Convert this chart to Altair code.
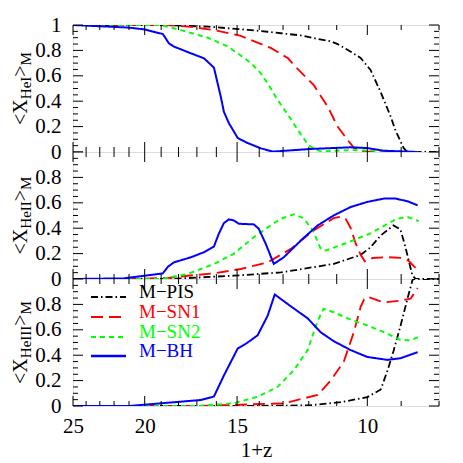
import altair as alt
import pandas as pd

# ---------------- data ----------------
SERIES = ["M\u2212PIS", "M\u2212SN1", "M\u2212SN2", "M\u2212BH"]
COLORS = ["#000000", "#ff0000", "#00ff00", "#0000ff"]

# panel 1 : <x_HeI>_M
HEI_PIS_X = [25, 19.0, 16.43, 14.5, 13.64, 13.09, 12.3, 11.67, 11.21, 10.97, 10.53, 10.21, 9.9, 9.59, 9.3, 9.16, 8.93, 8.82, 8.0]
HEI_PIS_Y = [1.0, 1.0, 0.987, 0.962, 0.947, 0.935, 0.918, 0.89, 0.872, 0.85, 0.79, 0.74, 0.646, 0.47, 0.28, 0.17, 0.03, 0.0, 0.0]
HEI_SN1_X = [25, 18.6, 17.3, 16.12, 14.83, 13.51, 12.8, 12.57, 11.82, 11.31, 10.97, 10.63, 10.43, 10.1, 8.55]
HEI_SN1_Y = [1.0, 1.0, 0.985, 0.96, 0.915, 0.82, 0.738, 0.685, 0.528, 0.357, 0.2, 0.094, 0.034, 0.003, 0.0]
HEI_SN2_X = [25, 19.0, 17.87, 16.43, 15.44, 14.83, 14.37, 13.93, 13.64, 13.22, 12.69, 12.42, 12.0, 11.56, 10.53, 10.0, 8.55]
HEI_SN2_Y = [1, 1, 0.96, 0.90, 0.83, 0.76, 0.70, 0.62, 0.54, 0.41, 0.26, 0.175, 0.05, 0.005, 0.015, 0.012, 0]
HEI_BH_X = [25, 21.07, 20.05, 18.9, 18.55, 18.26, 17.32, 16.63, 16.12, 15.78, 15.63, 15.39, 14.97, 14.51, 13.93, 13.42, 11.93, 10.53, 10.0, 9.5, 8.55]
HEI_BH_Y = [1, 0.98, 0.966, 0.929, 0.856, 0.83, 0.777, 0.738, 0.664, 0.435, 0.317, 0.228, 0.11, 0.07, 0.029, 0.003, 0.024, 0.037, 0.031, 0.01, 0]

# panel 2 : <x_HeII>_M
HEII_PIS_X = [25, 18.5, 15.16, 13.09, 11.10, 10.21, 9.9, 9.59, 9.22, 9.02, 8.88, 8.69, 8.6, 8.0]
HEII_PIS_Y = [0, 0, 0.026, 0.052, 0.119, 0.19, 0.25, 0.343, 0.422, 0.39, 0.25, 0.026, 0, 0]
HEII_SN1_X = [25, 20, 18.5, 17.49, 16.12, 14.83, 13.64, 12.69, 11.82, 11.10, 10.86, 10.7, 10.53, 10.37, 10.21, 10.08, 9.84, 9.39, 9.02, 8.8, 8.55]
HEII_SN1_Y = [0, 0.002, 0.01, 0.026, 0.044, 0.079, 0.131, 0.237, 0.382, 0.48, 0.49, 0.475, 0.40, 0.28, 0.19, 0.14, 0.165, 0.172, 0.166, 0.145, 0.07]
HEII_SN2_X = [25, 19.0, 17.49, 16.12, 15.16, 14.24, 13.51, 13.09, 12.57, 12.2, 11.85, 11.56, 11.38, 10.6, 9.9, 9.12, 8.82, 8.52]
HEII_SN2_Y = [0, 0, 0.04, 0.119, 0.198, 0.329, 0.422, 0.475, 0.509, 0.48, 0.382, 0.237, 0.224, 0.29, 0.36, 0.475, 0.488, 0.456]
HEII_BH_X = [25, 21.33, 18.9, 18.6, 18.26, 17.32, 16.63, 16.12, 15.88, 15.63, 15.39, 15.16, 14.92, 14.24, 14.02, 13.72, 13.38, 12.97, 12.3, 11.67, 11.10, 10.53, 10.0, 9.5, 9.16, 8.82, 8.55]
HEII_BH_Y = [0, 0.005, 0.044, 0.097, 0.131, 0.171, 0.211, 0.256, 0.356, 0.44, 0.469, 0.462, 0.435, 0.43, 0.396, 0.277, 0.119, 0.171, 0.303, 0.422, 0.501, 0.567, 0.607, 0.633, 0.633, 0.612, 0.58]

# panel 3 : <x_HeIII>_M
HEIII_PIS_X = [25, 15, 12.0, 10.86, 10.0, 9.59, 9.39, 9.22, 9.02, 8.82, 8.69, 8.66, 8.0]
HEIII_PIS_Y = [0, 0, 0.005, 0.03, 0.07, 0.13, 0.28, 0.43, 0.63, 0.85, 0.99, 1.0, 1.0]
HEIII_SN1_X = [25, 17, 12.97, 11.67, 11.21, 10.76, 10.43, 10.21, 10.1, 10.0, 9.5, 9.02, 8.74, 8.55]
HEIII_SN1_Y = [0, 0, 0.021, 0.087, 0.2, 0.35, 0.58, 0.78, 0.84, 0.86, 0.816, 0.83, 0.845, 0.93]
HEIII_SN2_X = [25, 17, 15.16, 14.07, 13.22, 12.57, 12.04, 11.85, 11.67, 11.46, 11.10, 10.53, 10.0, 9.5, 9.02, 8.74, 8.52]
HEIII_SN2_Y = [0, 0, 0.021, 0.073, 0.151, 0.282, 0.44, 0.56, 0.67, 0.765, 0.738, 0.68, 0.634, 0.582, 0.519, 0.518, 0.545]
HEIII_BH_X = [25, 21, 20.24, 18.6, 16.79, 16.12, 15.63, 14.97, 14.6, 14.37, 14.07, 13.64, 13.34, 12.69, 12.04, 11.56, 11.10, 10.53, 10.0, 9.39, 9.02, 8.55]
HEIII_BH_Y = [0, 0, 0.008, 0.026, 0.047, 0.075, 0.24, 0.453, 0.49, 0.518, 0.557, 0.71, 0.878, 0.785, 0.69, 0.58, 0.51, 0.44, 0.386, 0.363, 0.376, 0.424]

# axis ticks / labels
X_LABELS = [25, 20, 15, 10]
X_MINOR = [8, 9, 11, 12, 13, 14, 16, 17, 18, 19, 21, 22, 23, 24]
Y_LABELS_TOP = [0, 0.2, 0.4, 0.6, 0.8, 1]
Y_LABELS = [0, 0.2, 0.4, 0.6, 0.8]
Y_MAJOR = [0, 0.2, 0.4, 0.6, 0.8, 1]
Y_MINOR = [0.05, 0.1, 0.15, 0.25, 0.3, 0.35, 0.45, 0.5, 0.55, 0.65, 0.7, 0.75, 0.85, 0.9, 0.95]
SUBS = ["HeI", "HeII", "HeIII"]
X_TITLE = "1+z"

# ---------------- build ----------------
W, H = 366, 127
FONT = "Liberation Serif"
DASHES = [[7, 3, 1.5, 3], [12, 6], [5, 4], [1, 0]]
WIDTHS = [1.8, 2.0, 2.0, 2.5]

curves = {
    "HeI": [(HEI_PIS_X, HEI_PIS_Y), (HEI_SN1_X, HEI_SN1_Y), (HEI_SN2_X, HEI_SN2_Y), (HEI_BH_X, HEI_BH_Y)],
    "HeII": [(HEII_PIS_X, HEII_PIS_Y), (HEII_SN1_X, HEII_SN1_Y), (HEII_SN2_X, HEII_SN2_Y), (HEII_BH_X, HEII_BH_Y)],
    "HeIII": [(HEIII_PIS_X, HEIII_PIS_Y), (HEIII_SN1_X, HEIII_SN1_Y), (HEIII_SN2_X, HEIII_SN2_Y), (HEIII_BH_X, HEIII_BH_Y)],
}

xscale = alt.Scale(type="log", domain=[8, 25], reverse=True, nice=False, zero=False)
yscale = alt.Scale(domain=[0, 1], nice=False, zero=False)

x_major_df = pd.DataFrame({"x": X_LABELS})
x_minor_df = pd.DataFrame({"x": X_MINOR})
y_major_df = pd.DataFrame({"y": Y_MAJOR})
y_minor_df = pd.DataFrame({"y": Y_MINOR})


def ticks(xaxis, yaxis):
    layers = []
    for df, L in ((x_major_df, 10), (x_minor_df, 5)):
        for y0, y1 in ((0, L), (H - L, H)):
            layers.append(alt.Chart(df).mark_rule(color="black", strokeWidth=1).encode(
                x=alt.X("x:Q", scale=xscale, axis=xaxis), y=alt.value(y0), y2=alt.value(y1)))
    for df, L in ((y_major_df, 10), (y_minor_df, 5)):
        for x0, x1 in ((0, L), (W - L, W)):
            layers.append(alt.Chart(df).mark_rule(color="black", strokeWidth=1).encode(
                y=alt.Y("y:Q", scale=yscale, axis=yaxis), x=alt.value(x0), x2=alt.value(x1)))
    return layers


def ytitle(sub):
    main = 20
    small = 15
    wid = {"<": 0.564, ">": 0.564, "X": 0.722, "H": 0.722, "e": 0.444, "I": 0.333, "M": 0.889}
    pieces = [("<X", main, 0), (sub, small, 4), (">", main, 0), ("M", small, 4)]
    total = sum(sum(wid[c] for c in t) * fs for t, fs, _ in pieces)
    ypos = H / 2 + total / 2
    base_x = -46
    layers = []
    for t, fs, dx in pieces:
        layers.append(alt.Chart(pd.DataFrame({"t": [t]})).mark_text(
            angle=270, align="left", baseline="alphabetic", font=FONT, fontSize=fs, color="black"
        ).encode(x=alt.value(base_x + dx), y=alt.value(ypos), text="t:N"))
        ypos -= sum(wid[c] for c in t) * fs
    return layers


def legend():
    layers = []
    rows = [18, 38, 58, 77]
    for i, name in enumerate(SERIES):
        layers.append(alt.Chart(pd.DataFrame({"s": [name]})).mark_rule(
            color=COLORS[i], strokeDash=DASHES[i], strokeWidth=WIDTHS[i]
        ).encode(x=alt.value(18), x2=alt.value(53), y=alt.value(rows[i])))
        layers.append(alt.Chart(pd.DataFrame({"s": [name]})).mark_text(
            align="left", baseline="alphabetic", font=FONT, fontSize=19, color=COLORS[i]
        ).encode(x=alt.value(66), y=alt.value(rows[i] + 1), text="s:N"))
    return layers


def panel(idx):
    sub = SUBS[idx]
    rows = []
    for s, (xs, ys) in zip(SERIES, curves[sub]):
        for k, (xv, yv) in enumerate(zip(xs, ys)):
            rows.append({"series": s, "x": xv, "y": yv, "o": k})
    df = pd.DataFrame(rows)
    last = idx == 2
    if last:
        xaxis = alt.Axis(values=X_LABELS, format="d", ticks=False, tickSize=0, domain=False, grid=False,
                         labelFont=FONT, labelFontSize=21, labelPadding=9, labelFlush=False,
                         labelAlign="center", labelColor="black", title=X_TITLE, titleFont=FONT,
                         titleFontSize=21, titleFontWeight="normal", titleColor="black", titlePadding=3)
    else:
        xaxis = None
    yaxis = alt.Axis(values=(Y_LABELS_TOP if idx == 0 else Y_LABELS), format="~g", ticks=False, tickSize=0,
                     domain=False, grid=False, labelFont=FONT, labelFontSize=21, labelPadding=12,
                     labelColor="black", title=None, labelFlush=False)
    lines = alt.Chart(df).mark_line(clip=True).encode(
        x=alt.X("x:Q", scale=xscale, axis=xaxis),
        y=alt.Y("y:Q", scale=yscale, axis=yaxis),
        color=alt.Color("series:N", scale=alt.Scale(domain=SERIES, range=COLORS), legend=None),
        strokeDash=alt.StrokeDash("series:N", scale=alt.Scale(domain=SERIES, range=DASHES), legend=None),
        strokeWidth=alt.StrokeWidth("series:N", scale=alt.Scale(domain=SERIES, range=WIDTHS), legend=None),
        order="o:Q",
    )
    layers = [lines] + ticks(xaxis, yaxis) + ytitle(sub)
    if last:
        layers += legend()
    return alt.layer(*layers).properties(width=W, height=H)


chart = alt.vconcat(panel(0), panel(1), panel(2), spacing=0, bounds="flush").properties(
    padding={"left": 2, "top": 5, "right": 5, "bottom": 5}
).configure_view(stroke="black", strokeWidth=1).configure(background="white")

chart.save("out.html", embed_options={"renderer": "svg", "actions": False})
